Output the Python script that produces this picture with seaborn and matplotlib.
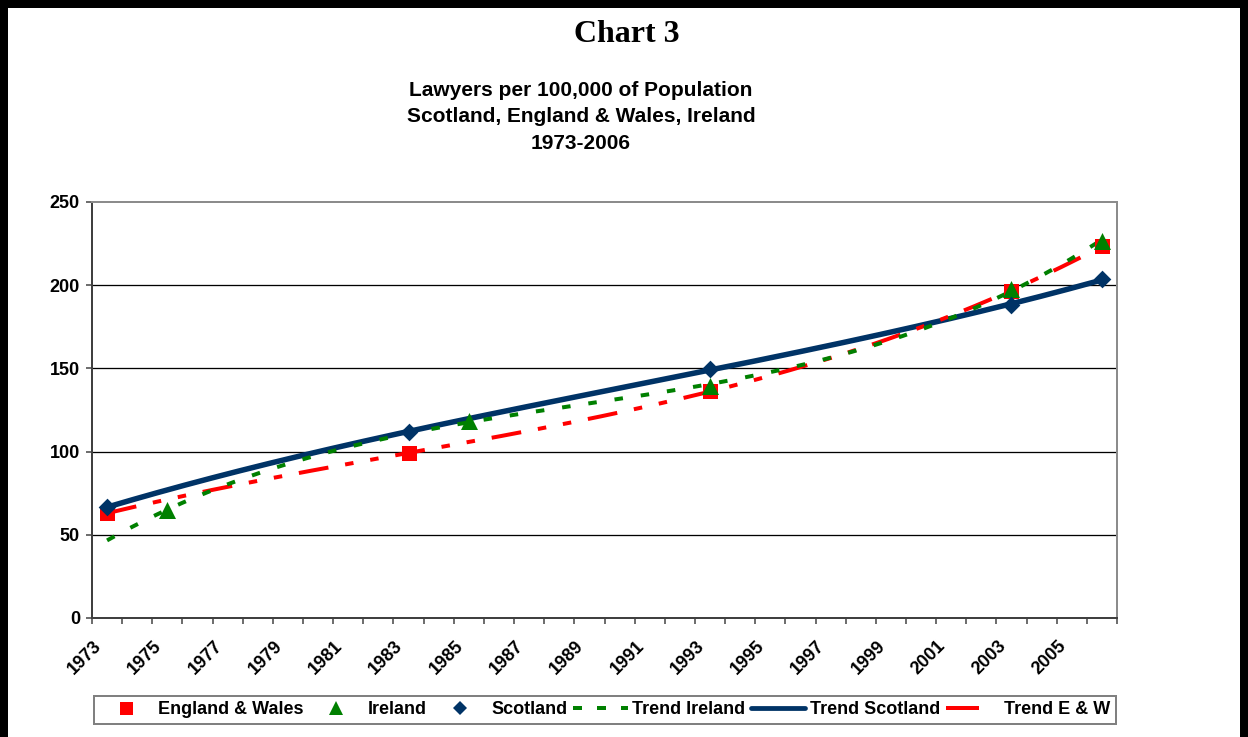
import numpy as np
import pandas as pd
import matplotlib
matplotlib.use("Agg")
import matplotlib.pyplot as plt
import seaborn as sns
from matplotlib.lines import Line2D
from matplotlib.patches import Rectangle
from matplotlib.transforms import ScaledTranslation, blended_transform_factory

# ---------------- data ----------------
categories = [1973, 1974, 1975, 1976, 1977, 1978, 1979, 1980, 1981, 1982,
              1983, 1984, 1985, 1986, 1987, 1988, 1989, 1990, 1991, 1992,
              1993, 1994, 1995, 1996, 1997, 1998, 1999, 2000, 2001, 2002,
              2003, 2004, 2005, 2006]
tick_years = [1973, 1975, 1977, 1979, 1981, 1983, 1985, 1987, 1989, 1991,
              1993, 1995, 1997, 1999, 2001, 2003, 2005]
tick_labels = ["1973", "1975", "1977", "1979", "1981", "1983", "1985", "1987",
               "1989", "1991", "1993", "1995", "1997", "1999", "2001", "2003",
               "2005"]
y_ticks = [0, 50, 100, 150, 200, 250]

ew_years = [1973, 1983, 1993, 2003, 2006]
ew_values = [63.0, 99.0, 136.4, 196.5, 223.6]
ir_years = [1975, 1985, 1993, 2003, 2006]
ir_values = [65.0, 118.4, 139.4, 198.0, 226.5]
sc_years = [1973, 1983, 1993, 2003, 2006]
sc_values = [66.7, 111.8, 149.6, 188.0, 203.7]

trend_order = 3   # polynomial trendlines

# ---------------- style ----------------
sns.set_style("white")
plt.rcParams['font.family'] = ['Liberation Sans', 'DejaVu Sans']
plt.rcParams['lines.scale_dashes'] = False
plt.rcParams['text.color'] = 'black'
plt.rcParams['xtick.color'] = 'black'
plt.rcParams['ytick.color'] = 'black'

RED = '#FF0000'
GREEN = '#008000'
NAVY = '#003366'
PX = 0.72  # points per pixel at 100 dpi

W, H = 1248, 737
fig = plt.figure(figsize=(W / 100, H / 100), dpi=100)
fig.patch.set_facecolor('white')
ax = fig.add_axes([92 / W, 1 - 618 / H, (1117 - 92) / W, (618 - 202) / H])
ax.set_facecolor('white')


def trend(years, values):
    x0 = categories[0]
    coef = np.polyfit(np.array(years, float) - x0, np.array(values, float), trend_order)
    xs = np.linspace(categories[0], categories[-1], 400)
    return pd.DataFrame({'year': xs, 'value': np.polyval(coef, xs - x0)})


red_dash = (0, (30 * PX, 17 * PX, 8.5 * PX, 17 * PX, 8.5 * PX, 17 * PX))
green_dash = (0, (8.5 * PX, 18 * PX))

# trend lines
sns.lineplot(data=trend(sc_years, sc_values), x='year', y='value', ax=ax,
             color=NAVY, lw=5.5 * PX, estimator=None, sort=True, zorder=3)
sns.lineplot(data=trend(ew_years, ew_values), x='year', y='value', ax=ax,
             color=RED, lw=4 * PX, linestyle=red_dash, estimator=None, zorder=3)
sns.lineplot(data=trend(ir_years, ir_values), x='year', y='value', ax=ax,
             color=GREEN, lw=4 * PX, linestyle=green_dash, estimator=None, zorder=3)

# markers
sns.scatterplot(x=ew_years, y=ew_values, ax=ax, marker='s', s=(15 * PX) ** 2,
                color=RED, linewidth=0, zorder=4)
sns.scatterplot(x=ir_years, y=ir_values, ax=ax, marker='^', s=(17 * PX) ** 2,
                color=GREEN, linewidth=0, zorder=5)
sns.scatterplot(x=sc_years, y=sc_values, ax=ax, marker='D', s=(12.5 * PX) ** 2,
                color=NAVY, linewidth=0, zorder=5)

# axes
ax.set_xlim(categories[0] - 0.5, categories[-1] + 0.5)
ax.set_ylim(y_ticks[0], y_ticks[-1])
ax.set_xlabel('')
ax.set_ylabel('')

ax.set_yticks(y_ticks)
ax.set_yticklabels([str(v) for v in y_ticks], fontsize=13, fontweight='bold',
                   color='black')
ax.tick_params(axis='y', which='major', direction='out', length=6 * PX,
               width=1.5 * PX, color='#404040', pad=6 * PX, left=True)

edges = [c - 0.5 for c in categories] + [categories[-1] + 0.5]
ax.set_xticks(edges)
ax.set_xticklabels([])
ax.tick_params(axis='x', which='major', direction='out', length=6 * PX,
               width=1.5 * PX, color='#404040', bottom=True)

trans = blended_transform_factory(ax.transData, ax.transAxes) + \
    ScaledTranslation(-5 / 100, -29 / 100, fig.dpi_scale_trans)
for yr, lab in zip(tick_years, tick_labels):
    ax.text(yr, 0, lab, transform=trans, rotation=45, rotation_mode='anchor',
            ha='right', va='baseline', fontsize=13, fontweight='bold',
            color='black', clip_on=False)

for v in y_ticks[1:-1]:
    ax.axhline(v, color='black', lw=1.3 * PX, zorder=1)
ax.grid(False)

for side in ['left', 'bottom']:
    ax.spines[side].set_color('#404040')
    ax.spines[side].set_linewidth(2 * PX)
for side in ['top', 'right']:
    ax.spines[side].set_color('#8C8C8C')
    ax.spines[side].set_linewidth(2 * PX)
    ax.spines[side].set_visible(True)

# titles
fig.text(627 / W, 1 - 35 / H, 'Chart 3', ha='center', va='center',
         fontsize=23, fontweight='bold', color='black',
         family=['Liberation Serif', 'DejaVu Serif'])
fig.text(581 / W, 1 - 117 / H,
         'Lawyers per 100,000 of Population\nScotland, England & Wales, Ireland\n1973-2006',
         ha='center', va='center', fontsize=15, fontweight='bold', color='black',
         linespacing=1.5)

# legend
handles = [
    Line2D([], [], marker='s', color=RED, linestyle='none', markersize=13 * PX, markeredgewidth=0),
    Line2D([], [], marker='^', color=GREEN, linestyle='none', markersize=14 * PX, markeredgewidth=0),
    Line2D([], [], marker='D', color=NAVY, linestyle='none', markersize=10 * PX, markeredgewidth=0),
    Line2D([], [], color=GREEN, lw=4 * PX, linestyle=(0, (9 * PX, 15 * PX))),
    Line2D([], [], color=NAVY, lw=4.8 * PX),
    Line2D([], [], color=RED, lw=4 * PX, linestyle=(0, (33 * PX, 21 * PX, 3 * PX, 30 * PX))),
]
labels = ['England & Wales', 'Ireland', 'Scotland', 'Trend Ireland',
          'Trend Scotland', 'Trend E & W']
leg = fig.legend(handles, labels, loc='center', bbox_to_anchor=(605 / W, 1 - 710 / H),
                 ncol=6, frameon=True, fancybox=False, shadow=False, framealpha=1,
                 prop={'size': 13, 'weight': 'bold'}, handlelength=3.0,
                 handletextpad=0.25, columnspacing=0.32, borderpad=0.3,
                 borderaxespad=0)
for t in leg.get_texts():
    t.set_color('black')
leg.get_frame().set_edgecolor('#808080')
leg.get_frame().set_linewidth(2 * PX)

# outer black frame
for (x, y, w, h) in [(0, 1 - 8 / H, 1, 8 / H), (0, 0, 8 / W, 1), (1 - 8 / W, 0, 8 / W, 1)]:
    fig.add_artist(Rectangle((x, y), w, h, transform=fig.transFigure,
                             facecolor='black', edgecolor='none', zorder=10))

fig.savefig('out.png', dpi=100, facecolor='white')
